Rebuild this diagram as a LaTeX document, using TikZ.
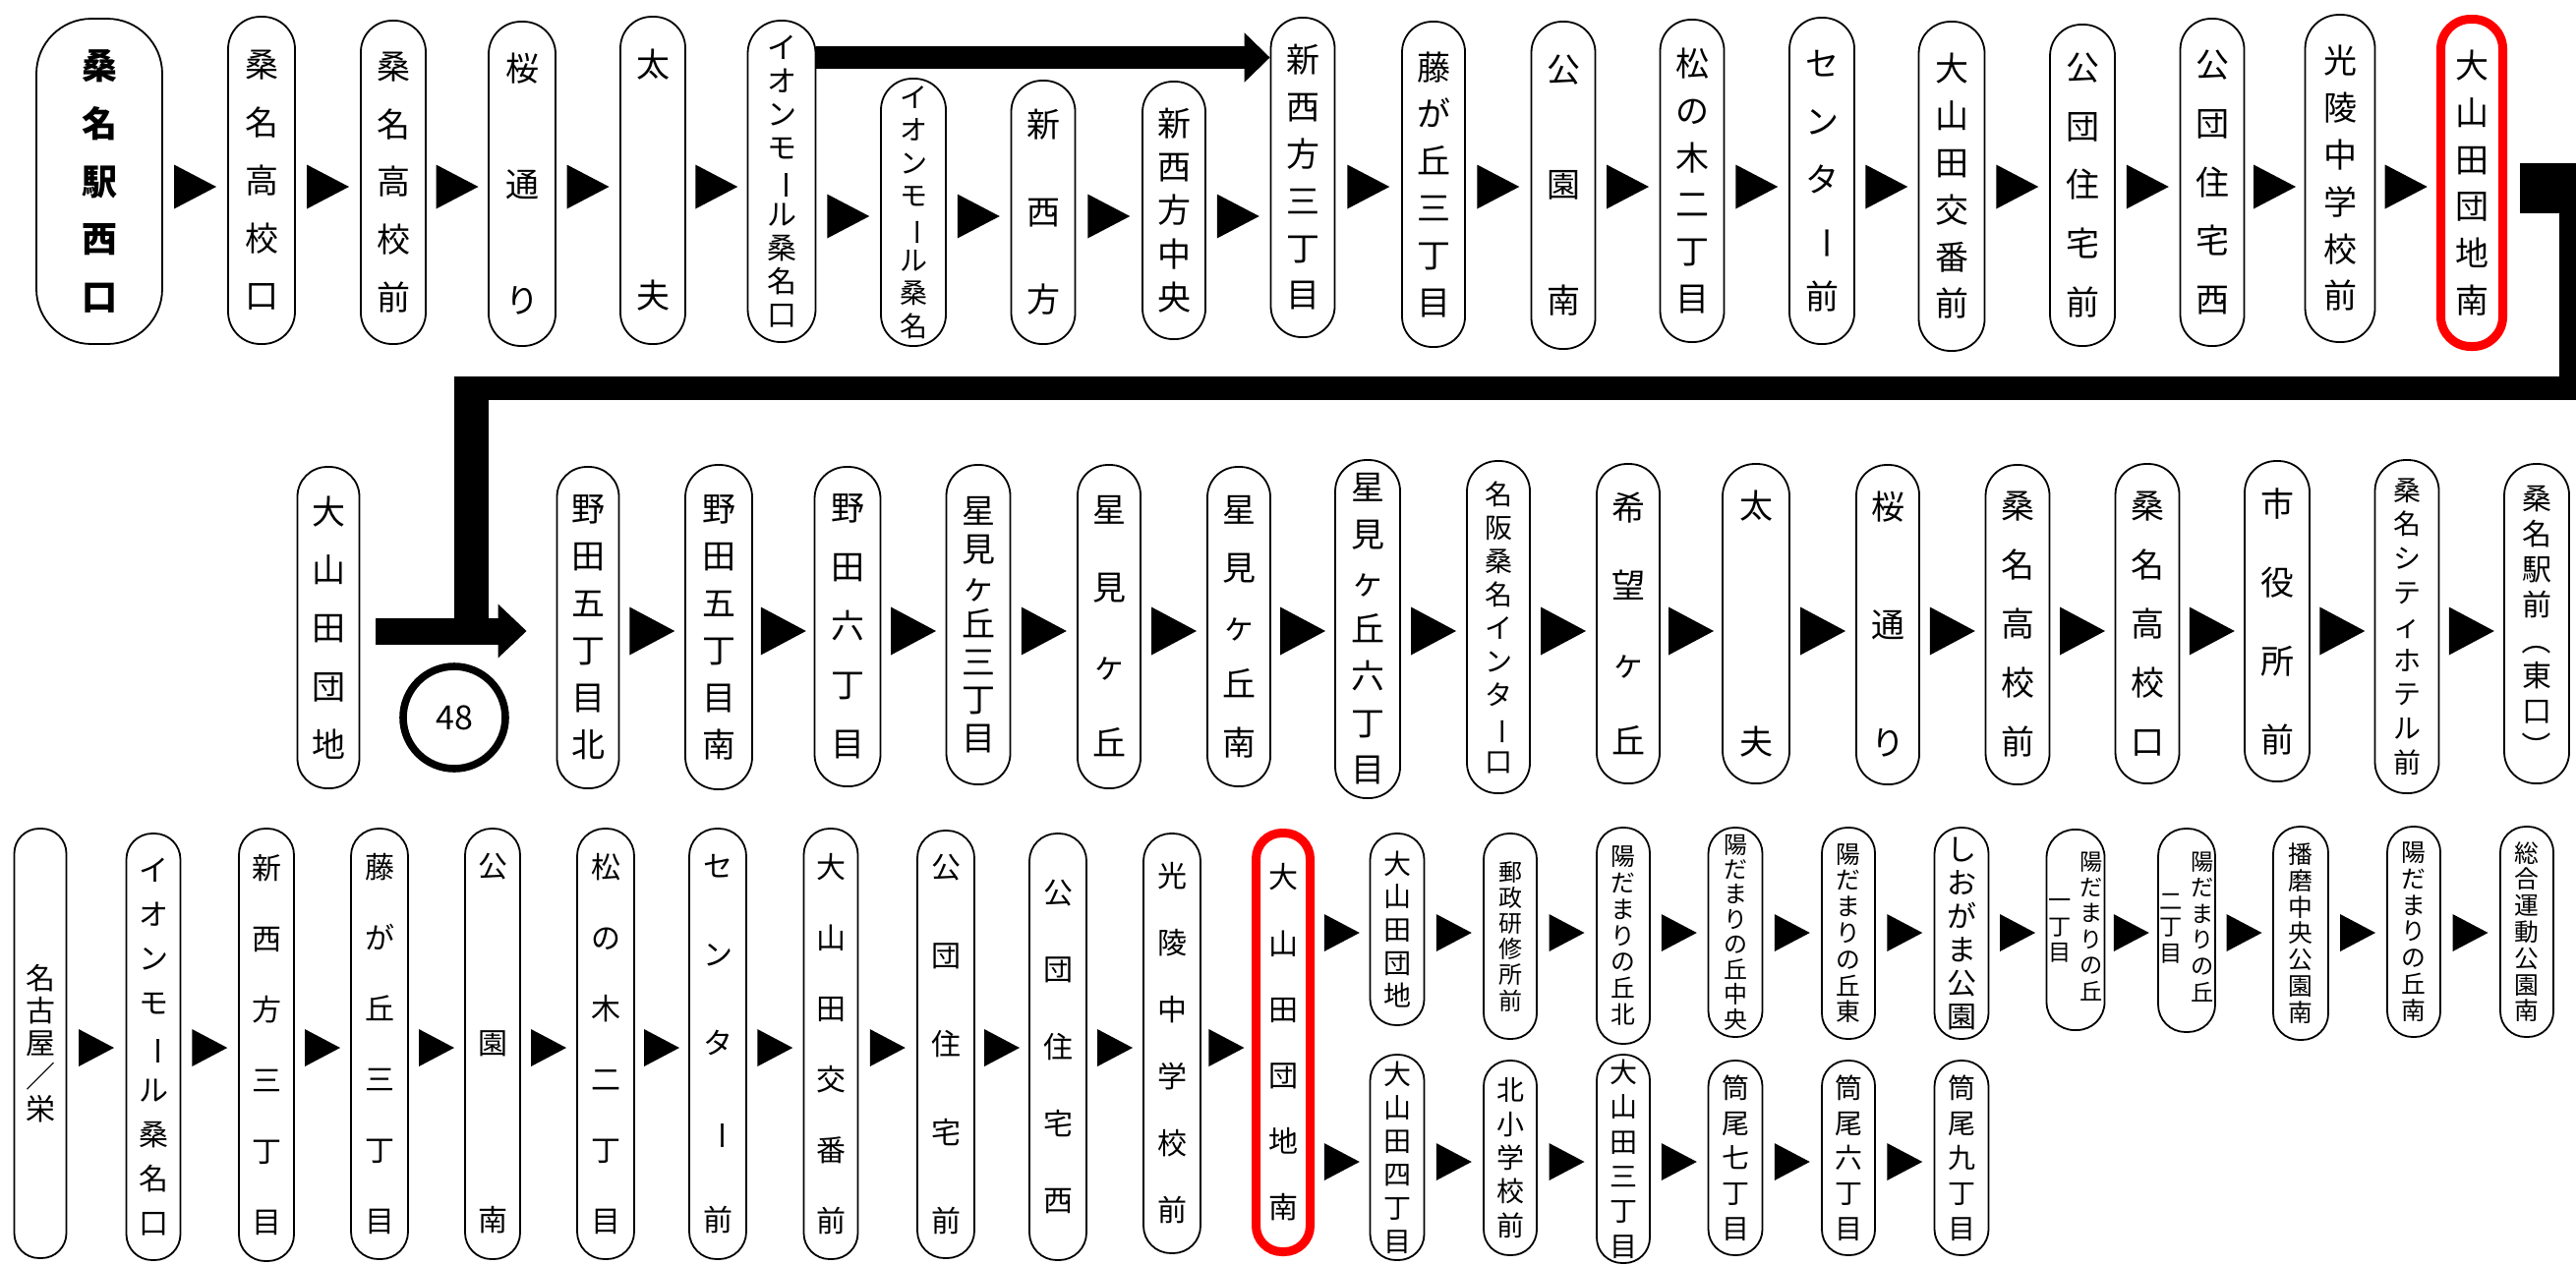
\documentclass[tikz,border=0pt]{standalone}
\usepackage{fontspec}
\usepackage{graphicx}
\setmainfont{Noto Sans CJK JP}
\usetikzlibrary{arrows.meta,calc}
\newcommand\jfs[2]{\fontsize{#1pt}{#2pt}\selectfont}
\newcommand\chou{\rotatebox[origin=c]{-90}{ー}}
\newcommand\tlp{\rotatebox[origin=c]{-90}{（}}
\newcommand\trp{\rotatebox[origin=c]{-90}{）}}
\tikzset{
  box/.style={draw, line width=0.45pt, inner sep=0pt, align=center},
  redbox/.style={draw=red, line width=2.25pt},
  bigarrow/.style={line width=#1},
}
\newcommand\stopbox[7][]{%
  \pgfmathsetmacro\bcy{(#4+#5)/2}%
  \pgfmathsetmacro\bhh{(#5-#4)*0.25}%
  \pgfmathsetmacro\bww{#6*0.25}%
  \pgfmathsetmacro\brr{#6*0.125-0.3}%
  \node[box,minimum width=\bww pt,minimum height=\bhh pt,rounded corners=\brr pt,#1] (#2) at (#3,\bcy) {#7};}
\newcommand\trimark[5]{%
  \path (#1.east) -- (#2.west) coordinate[pos=0.5] (tm);
  \coordinate (ty) at (0,#3);
  \fill (tm |- ty) ++(-#4/2,-#5/2) -- ++(#4,#5/2) -- ++(-#4,#5/2) -- cycle;}
\begin{document}
\begin{tikzpicture}[x=0.25pt,y=-0.25pt]
\useasboundingbox (0,0) rectangle (2620,1286);
\fill[white] (0,0) rectangle (2620,1286);
% ---------- row 1
\stopbox[font=\bfseries\jfs{9}{14.7}, rounded corners=14pt]{B1}{101}{19}{350}{128}{桑\\名\\駅\\西\\口}
\stopbox[font=\jfs{8.5}{14.7}]{B2}{266}{17}{350}{68}{桑\\名\\高\\校\\口}
\stopbox[font=\jfs{8.5}{14.7}]{B3}{400}{21}{350}{66}{桑\\名\\高\\校\\前}
\stopbox[font=\jfs{8.5}{29.4}]{B4}{531}{22}{352}{68}{桜\\通\\り}
\stopbox[font=\jfs{8.5}{58.75}]{B5}{664}{17}{350}{66}{太\\夫}
\stopbox[font=\jfs{7.5}{8.5}]{B6}{795}{21}{348}{69}{イ\\オ\\ン\\モ\\\chou\\ル\\桑\\名\\口}
\stopbox[font=\jfs{7}{8.3}]{B7}{929}{80}{352}{66}{イ\\オ\\ン\\モ\\\chou\\ル\\桑\\名}
\stopbox[font=\jfs{8.5}{22.25}]{B8}{1061}{82}{350}{65}{新\\西\\方}
\stopbox[font=\jfs{8.5}{11.1}]{B9}{1194}{83}{345}{64}{新\\西\\方\\中\\央}
\stopbox[font=\jfs{8.5}{11.95}]{B10}{1325}{18}{343}{65}{新\\西\\方\\三\\丁\\目}
\stopbox[font=\jfs{8.5}{11.95}]{B11}{1458}{22}{353}{64}{藤\\が\\丘\\三\\丁\\目}
\stopbox[font=\jfs{8.5}{29.4}]{B12}{1590}{22}{355}{65}{公\\園\\南}
\stopbox[font=\jfs{8.5}{11.95}]{B13}{1721}{20}{348}{65}{松\\の\\木\\二\\丁\\目}
\stopbox[font=\jfs{8.5}{14.8}]{B14}{1853}{18}{350}{66}{セ\\ン\\タ\\\chou\\前}
\stopbox[font=\jfs{8.5}{11.95}]{B15}{1985}{22}{357}{67}{大\\山\\田\\交\\番\\前}
\stopbox[font=\jfs{8.5}{14.9}]{B16}{2118}{25}{352}{66}{公\\団\\住\\宅\\前}
\stopbox[font=\jfs{8.5}{14.9}]{B17}{2250}{19}{352}{65}{公\\団\\住\\宅\\西}
\stopbox[font=\jfs{8.5}{11.95}]{B18}{2380}{15}{348}{71}{光\\陵\\中\\学\\校\\前}
\stopbox[redbox,font=\jfs{8.5}{11.95}]{B19}{2514}{19.5}{352.5}{63}{大\\山\\田\\団\\地\\南}
\trimark{B1}{B2}{190}{43}{45}
\trimark{B2}{B3}{190}{43}{45}
\trimark{B3}{B4}{190}{43}{45}
\trimark{B4}{B5}{190}{43}{45}
\trimark{B5}{B6}{190}{43}{45}
\trimark{B6}{B7}{220}{43}{45}
\trimark{B7}{B8}{220}{43}{45}
\trimark{B8}{B9}{220}{43}{45}
\trimark{B9}{B10}{220}{43}{45}
\trimark{B10}{B11}{190}{43}{45}
\trimark{B11}{B12}{190}{43}{45}
\trimark{B12}{B13}{190}{43}{45}
\trimark{B13}{B14}{190}{43}{45}
\trimark{B14}{B15}{190}{43}{45}
\trimark{B15}{B16}{190}{43}{45}
\trimark{B16}{B17}{190}{43}{45}
\trimark{B17}{B18}{190}{43}{45}
\trimark{B18}{B19}{190}{43}{45}
\coordinate (ya) at (0,58.5);
\draw[bigarrow=5.75pt,-{Triangle[length=6.5pt,width=12.25pt]}] (B6.east |- ya) -- (B10.west |- ya);
% ---------- row 2
\stopbox[font=\jfs{8.5}{14.8}]{C1}{334}{475}{802}{63}{大\\山\\田\\団\\地}
\stopbox[font=\jfs{8.5}{12}]{C2}{598}{475}{802}{63}{野\\田\\五\\丁\\目\\北}
\stopbox[font=\jfs{8.5}{12}]{C3}{731}{473}{803}{68}{野\\田\\五\\丁\\目\\南}
\stopbox[font=\jfs{8.5}{15}]{C4}{862}{475}{800}{67}{野\\田\\六\\丁\\目}
\stopbox[font=\jfs{8.5}{9.6}]{C5}{995}{473}{798}{65}{星\\見\\ヶ\\丘\\三\\丁\\目}
\stopbox[font=\jfs{8.5}{19.75}]{C6}{1128}{473}{802}{64}{星\\見\\ヶ\\丘}
\stopbox[font=\jfs{8.5}{14.8}]{C7}{1260}{475}{800}{64}{星\\見\\ヶ\\丘\\南}
\stopbox[font=\jfs{8.5}{11.96}]{C8}{1391}{468}{812}{66}{星\\見\\ヶ\\丘\\六\\丁\\目}
\stopbox[font=\jfs{7}{8.5}]{C9}{1524}{469}{807}{64}{名\\阪\\桑\\名\\イ\\ン\\タ\\\chou\\口}
\stopbox[font=\jfs{8.5}{19.75}]{C10}{1656}{472}{797}{64}{希\\望\\ヶ\\丘}
\stopbox[font=\jfs{8.5}{60}]{C11}{1786}{472}{797}{68}{太\\夫}
\stopbox[font=\jfs{8.5}{30}]{C12}{1920}{473}{798}{64}{桜\\通\\り}
\stopbox[font=\jfs{8.5}{15}]{C13}{2052}{473}{798}{65}{桑\\名\\高\\校\\前}
\stopbox[font=\jfs{8.5}{15}]{C14}{2184}{472}{797}{65}{桑\\名\\高\\校\\口}
\stopbox[font=\jfs{8.5}{20}]{C15}{2316}{469}{795}{66}{市\\役\\所\\前}
\stopbox[font=\jfs{7}{8.65}]{C16}{2448}{468}{807}{65}{桑\\名\\シ\\テ\\ィ\\ホ\\テ\\ル\\前}
\stopbox[font=\jfs{7.5}{9}]{C17}{2580}{472}{797}{66}{桑\\名\\駅\\前\\\tlp\\東\\口\\\trp}
\node[circle, draw, line width=1.9pt, minimum size=26pt, inner sep=0pt, font=\jfs{8.5}{10}] (n48) at (462,730) {48};
\trimark{C2}{C3}{642}{46}{49}
\trimark{C3}{C4}{642}{46}{49}
\trimark{C4}{C5}{642}{46}{49}
\trimark{C5}{C6}{642}{46}{49}
\trimark{C6}{C7}{642}{46}{49}
\trimark{C7}{C8}{642}{46}{49}
\trimark{C8}{C9}{642}{46}{49}
\trimark{C9}{C10}{642}{46}{49}
\trimark{C10}{C11}{642}{46}{49}
\trimark{C11}{C12}{642}{46}{49}
\trimark{C12}{C13}{642}{46}{49}
\trimark{C13}{C14}{642}{46}{49}
\trimark{C14}{C15}{642}{46}{49}
\trimark{C15}{C16}{642}{46}{49}
\trimark{C16}{C17}{642}{46}{49}
% loop connector from B19 to row 2
\fill (2563,166) rectangle (2620,217);
\fill (2603,166) rectangle (2620,407);
\fill (462,383) rectangle (2620,407);
\fill (462,383) rectangle (497,642);
\coordinate (yb) at (0,642);
\coordinate (s1) at ([xshift=4pt]C1.east);
\coordinate (s2) at ([xshift=-7.5pt]C2.west);
\draw[bigarrow=6.75pt,-{Triangle[length=7.25pt,width=13.25pt]}] (s1 |- yb) -- (s2 |- yb);
% ---------- row 3
\stopbox[font=\jfs{7.5}{8.3}]{D1}{41}{843}{1280}{53}{名\\古\\屋\\／\\栄}
\stopbox[font=\jfs{7.5}{11.2}]{D2}{156}{848}{1282}{55}{イ\\オ\\ン\\モ\\\chou\\ル\\桑\\名\\口}
\stopbox[font=\jfs{7.5}{18}]{D3}{271}{843}{1283}{56}{新\\西\\方\\三\\丁\\目}
\stopbox[font=\jfs{7.5}{18}]{D4}{386}{843}{1281}{58}{藤\\が\\丘\\三\\丁\\目}
\stopbox[font=\jfs{7.5}{45}]{D5}{501}{843}{1281}{56}{公\\園\\南}
\stopbox[font=\jfs{7.5}{18}]{D6}{616}{843}{1281}{58}{松\\の\\木\\二\\丁\\目}
\stopbox[font=\jfs{7.5}{22.5}]{D7}{730}{843}{1281}{58}{セ\\ン\\タ\\\chou\\前}
\stopbox[font=\jfs{7.5}{18}]{D8}{845}{843}{1281}{55}{大\\山\\田\\交\\番\\前}
\stopbox[font=\jfs{7.5}{22.5}]{D9}{962}{845}{1280}{58}{公\\団\\住\\宅\\前}
\stopbox[font=\jfs{7.5}{19.6}]{D10}{1076}{848}{1282}{58}{公\\団\\住\\宅\\西}
\stopbox[font=\jfs{7.5}{17}]{D11}{1192}{848}{1275}{58}{光\\陵\\中\\学\\校\\前}
\stopbox[redbox,font=\jfs{7.5}{16.8}]{D12}{1305}{847.5}{1273.5}{55}{大\\山\\田\\団\\地\\南}
\trimark{D1}{D2}{1066}{36}{38}
\trimark{D2}{D3}{1066}{36}{38}
\trimark{D3}{D4}{1066}{36}{38}
\trimark{D4}{D5}{1066}{36}{38}
\trimark{D5}{D6}{1066}{36}{38}
\trimark{D6}{D7}{1066}{36}{38}
\trimark{D7}{D8}{1066}{36}{38}
\trimark{D8}{D9}{1066}{36}{38}
\trimark{D9}{D10}{1066}{36}{38}
\trimark{D10}{D11}{1066}{36}{38}
\trimark{D11}{D12}{1066}{36}{38}
% upper branch
\stopbox[font=\jfs{7}{8.4}]{E1}{1421}{848}{1043}{55}{大\\山\\田\\団\\地}
\stopbox[font=\jfs{6}{6.55}]{E2}{1536}{848}{1057}{54}{郵\\政\\研\\修\\所\\前}
\stopbox[font=\jfs{6.2}{6.7}]{E3}{1651}{842}{1062}{54}{陽\\だ\\ま\\り\\の\\丘\\北}
\stopbox[font=\jfs{6}{6.36}]{E4}{1765}{842}{1055}{55}{陽\\だ\\ま\\り\\の\\丘\\中\\央}
\stopbox[font=\jfs{6.2}{6.7}]{E5}{1880}{842}{1057}{54}{陽\\だ\\ま\\り\\の\\丘\\東}
\stopbox[font=\jfs{7.5}{8.5}]{E6}{1995}{842}{1057}{55}{し\\お\\が\\ま\\公\\園}
\stopbox[font=\jfs{5.8}{6.6}]{E7}{2111}{844}{1048}{59}{\begin{tabular}{@{}c@{}}一\\丁\\目\end{tabular}\hspace{2pt}\begin{tabular}{@{}c@{}}陽\\だ\\ま\\り\\の\\丘\end{tabular}}
\stopbox[font=\jfs{5.8}{6.6}]{E8}{2224}{843}{1050}{58}{\begin{tabular}{@{}c@{}}二\\丁\\目\end{tabular}\hspace{2pt}\begin{tabular}{@{}c@{}}陽\\だ\\ま\\り\\の\\丘\end{tabular}}
\stopbox[font=\jfs{6.2}{6.7}]{E9}{2340}{841}{1058}{56}{播\\磨\\中\\央\\公\\園\\南}
\stopbox[font=\jfs{6.2}{6.7}]{E10}{2455}{841}{1055}{54}{陽\\だ\\ま\\り\\の\\丘\\南}
\stopbox[font=\jfs{6.2}{6.7}]{E11}{2570}{841}{1055}{54}{総\\合\\運\\動\\公\\園\\南}
\trimark{D12}{E1}{949}{36}{38}
\trimark{E1}{E2}{949}{36}{38}
\trimark{E2}{E3}{949}{36}{38}
\trimark{E3}{E4}{949}{36}{38}
\trimark{E4}{E5}{949}{36}{38}
\trimark{E5}{E6}{949}{36}{38}
\trimark{E6}{E7}{949}{36}{38}
\trimark{E7}{E8}{949}{36}{38}
\trimark{E8}{E9}{949}{36}{38}
\trimark{E9}{E10}{949}{36}{38}
\trimark{E10}{E11}{949}{36}{38}
% lower branch
\stopbox[font=\jfs{7}{8.5}]{F1}{1421}{1073}{1282}{55}{大\\山\\田\\四\\丁\\目}
\stopbox[font=\jfs{7}{8.6}]{F2}{1536}{1079}{1277}{54}{北\\小\\学\\校\\前}
\stopbox[font=\jfs{7}{8.85}]{F3}{1651}{1073}{1285}{54}{大\\山\\田\\三\\丁\\目}
\stopbox[font=\jfs{7}{8.9}]{F4}{1765}{1079}{1277}{55}{筒\\尾\\七\\丁\\目}
\stopbox[font=\jfs{7}{8.9}]{F5}{1880}{1079}{1277}{54}{筒\\尾\\六\\丁\\目}
\stopbox[font=\jfs{7}{8.9}]{F6}{1995}{1079}{1277}{55}{筒\\尾\\九\\丁\\目}
\trimark{D12}{F1}{1182}{36}{38}
\trimark{F1}{F2}{1182}{36}{38}
\trimark{F2}{F3}{1182}{36}{38}
\trimark{F3}{F4}{1182}{36}{38}
\trimark{F4}{F5}{1182}{36}{38}
\trimark{F5}{F6}{1182}{36}{38}
\end{tikzpicture}
\end{document}
